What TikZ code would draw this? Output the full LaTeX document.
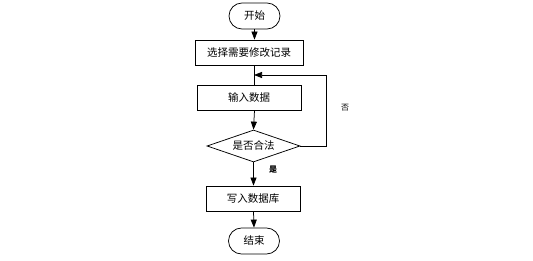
\documentclass[tikz,border=0pt]{standalone}
\usepackage{fontspec}
\newfontfamily\cjk{Noto Sans CJK SC}
\usetikzlibrary{shapes.misc,shapes.geometric,arrows.meta}
\begin{document}
\begin{tikzpicture}[x=1pt,y=-1pt,
  every node/.style={font=\cjk\fontsize{10.5}{12}\selectfont, inner sep=0pt},
  term/.style={draw, line width=0.75pt, rounded rectangle, minimum width=51pt, minimum height=26pt},
  proc/.style={draw, line width=0.75pt, rectangle, minimum height=25pt},
  dec/.style={draw, line width=0.75pt, diamond, aspect=3, minimum width=93pt, minimum height=32pt},
  conn/.style={draw=black, line width=0.75pt, -{Triangle[length=8pt,width=6pt]}},
  line/.style={draw=black, line width=0.75pt},
  lbl/.style={font=\cjk\fontsize{8}{10}\selectfont}
]
\useasboundingbox (0,0) rectangle (533,261);
\node[term] (start) at (254.5,16) {开始};
\node[proc, minimum width=108pt] (sel) at (249,52.5) {选择需要修改记录};
\node[proc, minimum width=104pt] (inp) at (249,97.5) {输入数据};
\node[dec] (chk) at (253.5,146) {是否合法};
\node[proc, minimum width=94pt] (wr) at (253,198.5) {写入数据库};
\node[term] (end) at (254,241) {结束};
\coordinate (m) at (254,75);
\coordinate (r1) at (326,146);
\coordinate (r2) at (326,75);
\draw[conn] (start.south) -- (start.south |- sel.north);
\draw[line] (start.south |- sel.south) -- (start.south |- inp.north);
\draw[conn] (start.south |- inp.south) -- (chk.north);
\draw[line] (chk.east) -- (r1) -- (r2);
\draw[conn] (r2) -- (m);
\draw[conn] (chk.south) -- (chk.south |- wr.north);
\draw[conn] (chk.south |- wr.south) -- (end.north);
\node[lbl] (no) at (345,108) {否};
\node[lbl, font=\cjk\bfseries\fontsize{8}{10}\selectfont] (yes) at (273,170) {是};
\end{tikzpicture}
\end{document}
